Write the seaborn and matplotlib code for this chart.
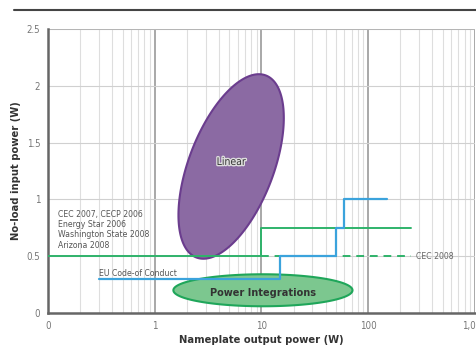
import numpy as np
import matplotlib
matplotlib.use("Agg")
import matplotlib.pyplot as plt
import seaborn as sns
from matplotlib.lines import Line2D
import matplotlib.patheffects as pe

# step limits (W in, W no-load)
cec_x = [0.1, 10, 250]
cec_y = [0.5, 0.75, 0.75]
cec2008_x = [10, 250]
cec2008_y = [0.5, 0.5]
eu_x = [0.3, 15, 50, 60, 150]
eu_y = [0.3, 0.5, 0.75, 1.0, 1.0]

# regions: centre (log10 W, W), half axes in px-like units, angle
linear_c = [0.716, 1.29]
linear_ab = [97.5, 42.6, 69]
pi_c = [1.014, 0.2]
pi_ab = [90, 16, 0]

xticks = [0.1, 1, 10, 100, 1000]
xlabels = ["0", "1", "10", "100", "1,000"]
yticks = [0, 0.5, 1, 1.5, 2, 2.5]
ylabels = ["0", "0.5", "1", "1.5", "2", "2.5"]

sns.set_style("white")
plt.rcParams['font.family'] = ['DejaVu Sans']
plt.rcParams['font.stretch'] = 'condensed'

fig = plt.figure(figsize=(4.77, 3.45), dpi=100)
ax = fig.add_axes([0.1006, 0.0928, 0.895, 0.823])
ax.set_xscale("log")
ax.set_xlim(0.1, 1000)
ax.set_ylim(0, 2.5)

# grid
ax.grid(True, which="minor", axis="x", color="#dedede", lw=0.8)
ax.grid(True, which="major", axis="x", color="#9a9a9a", lw=1.2)
ax.grid(True, which="major", axis="y", color="#d0d0d0", lw=0.8)
ax.set_axisbelow(True)


def ellipse(c, ab, px_dec=107.25, px_w=113.6):
    t = np.linspace(0, 2 * np.pi, 200)
    a, b, ang = ab
    th = np.deg2rad(ang)
    px = a * np.cos(t) * np.cos(th) - b * np.sin(t) * np.sin(th)
    py = a * np.cos(t) * np.sin(th) + b * np.sin(t) * np.cos(th)
    return 10 ** (c[0] + px / px_dec), c[1] + py / px_w


lx, ly = ellipse(linear_c, linear_ab)
ax.fill(lx, ly, facecolor="#8b6aa3", edgecolor="#6b3d8e", lw=1.5, zorder=3)
ax.text(10 ** linear_c[0], linear_c[1] + 0.04, "Linear", ha="center", va="center",
        fontsize=7.5, color="#333333", zorder=6,
        path_effects=[pe.withStroke(linewidth=2, foreground="#dddddd")])

gx, gy = ellipse(pi_c, pi_ab)
ax.fill(gx, gy, facecolor="#7cc78f", edgecolor="#1fa65a", lw=1.5, zorder=2)
ax.text(10 ** pi_c[0], pi_c[1] - 0.02, "Power Integrations", ha="center", va="center",
        fontsize=7.8, fontweight="bold", color="#333333", zorder=6)

sns.lineplot(x=cec_x, y=cec_y, ax=ax, drawstyle="steps-post", color="#2fb36b",
             lw=1.4, estimator=None, zorder=4)
sns.lineplot(x=cec2008_x, y=cec2008_y, ax=ax, color="#2fb36b", lw=1.4,
             linestyle=(0, (4, 3)), estimator=None, zorder=4)
sns.lineplot(x=eu_x, y=eu_y, ax=ax, drawstyle="steps-post", color="#3ba3dc",
             lw=1.6, estimator=None, zorder=5)

ax.text(0.123, 0.91, "CEC 2007, CECP 2006\nEnergy Star 2006\nWashington State 2008\nArizona 2008",
        fontsize=6.2, color="#555555", va="top", linespacing=1.2)
ax.text(0.3, 0.31, "EU Code-of Conduct", fontsize=6.2, color="#555555", va="bottom")
ax.text(280, 0.5, "CEC 2008", fontsize=6.2, color="#666666", va="center")

ax.set_xticks(xticks)
ax.set_xticklabels(xlabels)
ax.set_yticks(yticks)
ax.set_yticklabels(ylabels)
ax.tick_params(axis="both", labelsize=7, colors="#777777", length=2, width=0.8)
ax.tick_params(axis="x", which="minor", length=0)

for s in ["top", "right"]:
    ax.spines[s].set_visible(False)
for s in ["left", "bottom"]:
    ax.spines[s].set_color("#666666")
    ax.spines[s].set_linewidth(1.8)
ax.axhline(2.5, color="#b0b0b0", lw=1.2)

ax.set_xlabel("Nameplate output power (W)", fontsize=8, fontweight="bold", color="#333333", labelpad=3)
ax.set_ylabel("No-load input power (W)", fontsize=8, fontweight="bold", color="#333333", labelpad=4)

fig.add_artist(Line2D([0.03, 1.0], [0.971, 0.971], color="#444444", lw=1.5))

fig.savefig("out.png", dpi=100)
